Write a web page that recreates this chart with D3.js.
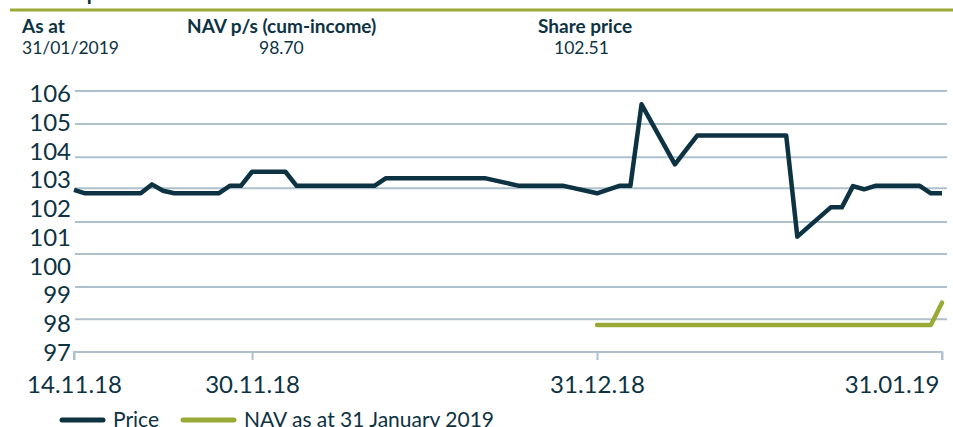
<!DOCTYPE html>
<html>
<head>
<meta charset="utf-8">
<script src="https://cdn.jsdelivr.net/npm/d3@7"></script>
<style>
  html, body { margin: 0; padding: 0; background: #fff; }
  svg { display: block; font-family: Lato, "Open Sans", sans-serif; }
</style>
</head>
<body>
<svg id="chart" width="953" height="427"></svg>
<script>
// ---- data ----
const priceDates = [
  "2018-11-14","2018-11-15","2018-11-16","2018-11-19","2018-11-20","2018-11-21","2018-11-22","2018-11-23",
  "2018-11-26","2018-11-27","2018-11-28","2018-11-29","2018-11-30",
  "2018-12-03","2018-12-04","2018-12-05","2018-12-06","2018-12-07","2018-12-10","2018-12-11",
  "2018-12-12","2018-12-13","2018-12-14","2018-12-17","2018-12-18","2018-12-19","2018-12-20","2018-12-21",
  "2018-12-24","2018-12-27","2018-12-28","2018-12-31",
  "2019-01-02","2019-01-03","2019-01-04","2019-01-07","2019-01-08","2019-01-09","2019-01-10","2019-01-11",
  "2019-01-14","2019-01-15","2019-01-16","2019-01-17","2019-01-18",
  "2019-01-21","2019-01-22","2019-01-23","2019-01-24","2019-01-25",
  "2019-01-28","2019-01-29","2019-01-30","2019-01-31"
];
const priceValues = [
  102.63,102.51,102.51,102.51,102.51,102.82,102.60,102.51,
  102.51,102.51,102.77,102.77,103.26,
  103.26,102.77,102.77,102.77,102.77,102.77,102.77,
  103.03,103.03,103.03,103.03,103.03,103.03,103.03,103.03,
  102.77,102.77,102.77,102.51,
  102.77,102.77,105.61,103.52,104.02,104.52,104.52,104.52,
  104.52,104.52,104.52,104.52,101.00,
  102.02,102.02,102.76,102.65,102.77,
  102.77,102.77,102.51,102.51
];
const navDates = ["2018-12-31","2019-01-30","2019-01-31"];
const navValues = [97.92, 97.92, 98.70];

const yTickValues = [97,98,99,100,101,102,103,104,105,106];
const gridValues = [96.98,98.12,99.25,100.40,101.51,102.69,103.77,104.92,106.07];
const xTickDates = ["2018-11-14","2018-11-30","2018-12-31","2019-01-31"];
const xTickLabels = ["14.11.18","30.11.18","31.12.18","31.01.19"];

const headerLabels = ["As at","NAV p/s (cum-income)","Share price"];
const headerValues = ["31/01/2019","98.70","102.51"];
const legendLabels = ["Price","NAV as at 31 January 2019"];

// ---- setup ----
const parse = d3.timeParse("%Y-%m-%d");
const navy = "#0d3242";
const olive = "#9aaa36";
const gridCol = "#adc0cc";

const svg = d3.select("#chart");

const x = d3.scaleTime()
  .domain([parse("2018-11-14"), parse("2019-01-31")])
  .range([74, 942]);
const y = d3.scaleLinear().domain([97, 106]).range([351.5, 93.1]);

// partial title (cut off at top)
svg.append("text").attr("x", 10).attr("y", -1)
  .attr("font-size", 28).attr("fill", navy).text("Share price");

// top olive rule
svg.append("line").attr("x1", 10).attr("x2", 953).attr("y1", 10).attr("y2", 10)
  .attr("stroke", olive).attr("stroke-width", 3);

// header
const hx = [22, 187, 538];
const hvx = [22, 259, 554];
headerLabels.forEach((t, i) => {
  svg.append("text").attr("x", hx[i]).attr("y", 33)
    .attr("font-size", 19).attr("font-weight", 700).attr("fill", navy).text(t);
  svg.append("text").attr("x", hvx[i]).attr("y", 54)
    .attr("font-size", 17.5).attr("fill", navy).text(headerValues[i]);
});

// grid lines
svg.append("g").selectAll("line").data(gridValues.slice(1)).join("line")
  .attr("x1", 75).attr("x2", 947)
  .attr("y1", d => y(d)).attr("y2", d => y(d))
  .attr("stroke", gridCol).attr("stroke-width", 2);

// x axis
const xAxis = d3.axisBottom(x)
  .tickValues(xTickDates.map(parse))
  .tickSize(8)
  .tickFormat((d, i) => xTickLabels[i]);
const gx = svg.append("g").attr("transform", `translate(0,${y(gridValues[0])})`).call(xAxis);
gx.select(".domain").attr("stroke", gridCol).attr("stroke-width", 2)
  .attr("d", `M${x.range()[0]},8V0H${x.range()[1]}V8`);
gx.selectAll(".tick line").attr("stroke", gridCol).attr("stroke-width", 2);
gx.selectAll(".tick text").attr("font-size", 24).attr("fill", navy)
  .attr("font-family", "Lato, sans-serif").attr("y", 24).attr("dy", "0.71em");
gx.selectAll(".tick text").filter((d, i) => i === xTickDates.length - 1)
  .attr("text-anchor", "end").attr("dx", -3);

// y labels
const yAxis = d3.axisLeft(y).tickValues(yTickValues).tickSize(0).tickPadding(0);
const gy = svg.append("g").attr("transform", "translate(71,0)").call(yAxis);
gy.select(".domain").remove();
gy.selectAll(".tick text").attr("font-size", 24).attr("fill", navy)
  .attr("font-family", "Lato, sans-serif").attr("dy", "0.36em");

// lines
const line = d3.line().x(d => x(d[0])).y(d => y(d[1]));
const priceData = priceDates.map((d, i) => [parse(d), priceValues[i]]);
const navData = navDates.map((d, i) => [parse(d), navValues[i]]);

svg.append("path").datum(navData).attr("d", line)
  .attr("fill", "none").attr("stroke", olive).attr("stroke-width", 4.5)
  .attr("stroke-linecap", "round").attr("stroke-linejoin", "round");
svg.append("path").datum(priceData).attr("d", line)
  .attr("fill", "none").attr("stroke", navy).attr("stroke-width", 4.5)
  .attr("stroke-linejoin", "round");

// legend
const lg = [{x1: 62, x2: 103, tx: 113, c: navy}, {x1: 183, x2: 234, tx: 244, c: olive}];
legendLabels.forEach((t, i) => {
  svg.append("line").attr("x1", lg[i].x1).attr("x2", lg[i].x2).attr("y1", 420).attr("y2", 420)
    .attr("stroke", lg[i].c).attr("stroke-width", 5).attr("stroke-linecap", "round");
  svg.append("text").attr("x", lg[i].tx).attr("y", 427)
    .attr("font-size", 21).attr("fill", navy).text(t);
});
</script>
</body>
</html>
